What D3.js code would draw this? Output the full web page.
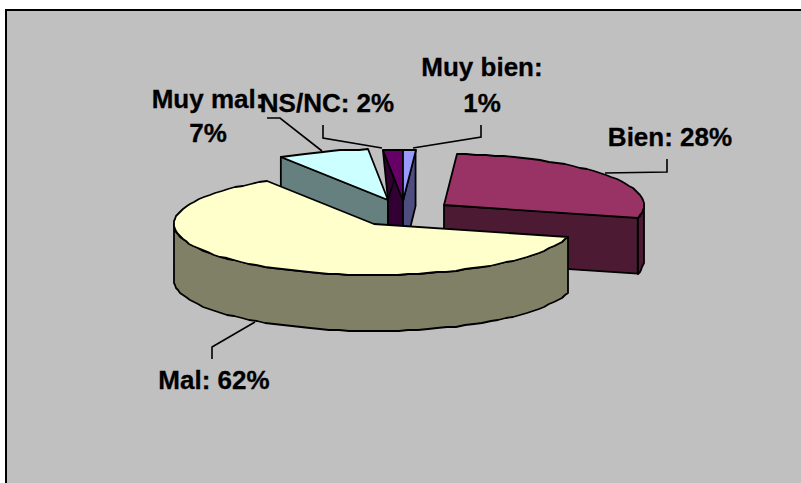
<!DOCTYPE html>
<html><head><meta charset="utf-8">
<script src="https://cdn.jsdelivr.net/npm/d3@7"></script>
<style>html,body{margin:0;padding:0;background:#fff}svg{display:block}</style></head>
<body><svg id="c" width="801" height="483"></svg>
<script>
const categories = ["Muy bien","Bien","Mal","Muy mal","NS/NC"];
const values = [1,28,62,7.4,1.6];
const topColors = ["#9999ff","#993366","#ffffcc","#ccffff","#660066"];
const wallColors = ["#4d4d80","#4d1a33","#808066","#668080","#330033"];
const labelLines = [["Muy bien:","1%"],["Bien: 28%"],["Mal: 62%"],["Muy mal:","7%"],["NS/NC: 2%"]];

const W=801,H=483,rx=200,ry=51,depth=56;
// slice apex position (exploded offsets), in the pie's own order
const apexes=[[403,201],[444,205],[374,224],[388,200],[403,201]];
const labelPos=[[482,76,36],[670,146,0],[214,389,0],[208,108,34],[327,112,0]];
const leaders=[
 [[413,148],[481,137],[481,125]],
 [[605,173],[667,172],[667,159]],
 [[255,322],[212,347],[212,359]],
 [[322,151],[280,118],[267,118]],
 [[382,148],[323,138],[323,125]]];

const svg=d3.select("#c");
svg.append("rect").attr("width",W).attr("height",H).attr("fill","#fff");
svg.append("rect").attr("x",6).attr("y",10).attr("width",W).attr("height",H)
  .attr("fill","#c0c0c0").attr("stroke","#000").attr("stroke-width",2);

const arcs=d3.pie().sort(null).value(d=>d)(values);
const line=d3.line();
const pt=(i,t)=>[apexes[i][0]+rx*Math.sin(t),apexes[i][1]-ry*Math.cos(t)];
const down=p=>[p[0],p[1]+depth];
function arcPts(i,a,b){
  const n=Math.max(2,Math.ceil((b-a)/0.05));
  return d3.range(n+1).map(k=>pt(i,a+(b-a)*k/n).map(Math.round));
}
const draw=(pts,fill)=>svg.append("path").attr("d",line(pts)+"Z").attr("fill",fill)
  .attr("stroke","#000").attr("stroke-width",1.8).attr("stroke-linejoin","round");

// paint order: back slices first, the big front slice last
[3,4,0,1,2].forEach(i=>{
  const a=arcs[i].startAngle,b=arcs[i].endAngle,ap=apexes[i];
  const wall=wallColors[i];
  // radial walls that face the viewer
  [a,b].forEach((t,j)=>{
    const s=Math.sin(t);
    const facing = j===0 ? s<0 : s>0;
    if(!facing) return;
    const o=pt(i,t);
    let poly=[o,ap,down(ap),down(o)];
    if(i===4){ // wall stops where the neighbouring slice's apex sits
      const n=apexes[3];
      poly=[o,ap,down(ap),down(n),n];
    }
    draw(poly,wall);
  });
  // outer rim (front half of the ellipse)
  const r0=Math.max(a,Math.PI/2),r1=Math.min(b,3*Math.PI/2);
  if(r1>r0){
    const top=arcPts(i,r0,r1);
    draw(top.concat(top.slice().reverse().map(down)),wall);
  }
  // top face
  draw([ap].concat(arcPts(i,a,b)),topColors[i]);
});

// leader lines
leaders.forEach(l=>svg.append("path").attr("d",line(l)).attr("fill","none")
  .attr("stroke","#000").attr("stroke-width",1.6));

// labels
labelLines.forEach((ls,i)=>{
  const [x,y,dy]=labelPos[i];
  ls.forEach((s,k)=>svg.append("text").text(s).attr("x",x).attr("y",y+k*dy)
    .attr("text-anchor","middle").attr("font-family","'Liberation Sans',Arial,sans-serif")
    .attr("font-weight","700").attr("font-size",26).attr("fill","#000")
    .attr("stroke","#000").attr("stroke-width",0.3));
});
</script></body></html>
